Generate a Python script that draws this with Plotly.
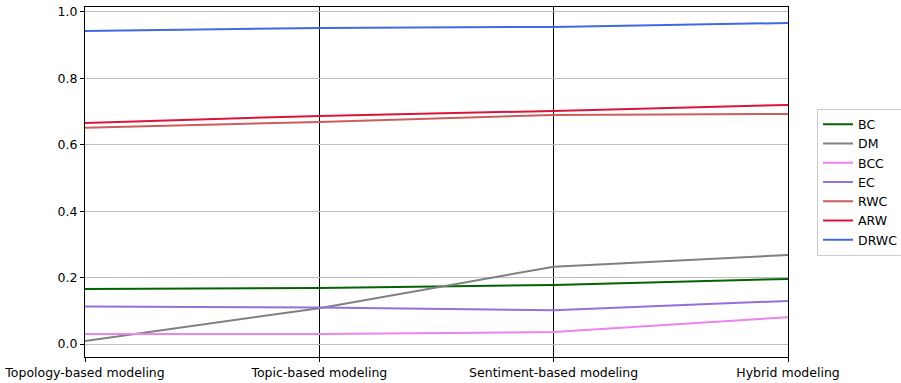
import plotly.graph_objects as go

# Modeling approaches (parallel axes)
categories = ["Topology-based modeling", "Topic-based modeling",
              "Sentiment-based modeling", "Hybrid modeling"]

# Scores per centrality measure across the approaches
BC = [0.166, 0.169, 0.178, 0.196]
DM = [0.009, 0.108, 0.233, 0.268]
BCC = [0.030, 0.030, 0.036, 0.081]
EC = [0.113, 0.110, 0.102, 0.130]
RWC = [0.651, 0.669, 0.690, 0.693]
ARW = [0.666, 0.687, 0.702, 0.720]
DRWC = [0.943, 0.952, 0.955, 0.967]

series = [
    ("BC", BC, "#006400"),
    ("DM", DM, "#808080"),
    ("BCC", BCC, "#ee82ee"),
    ("EC", EC, "#9370db"),
    ("RWC", RWC, "#cd5c5c"),
    ("ARW", ARW, "#dc143c"),
    ("DRWC", DRWC, "#4169e1"),
]

y_ticks = [0.0, 0.2, 0.4, 0.6, 0.8, 1.0]

fig = go.Figure()
for name, vals, color in series:
    fig.add_trace(go.Scatter(
        x=categories, y=vals, mode="lines", name=name,
        line=dict(color=color, width=2),
    ))

font = dict(family="DejaVu Sans", size=12.5, color="black")

fig.update_layout(
    width=901, height=383,
    margin=dict(l=85, r=113, t=7, b=26, autoexpand=False),
    paper_bgcolor="white", plot_bgcolor="white",
    font=font,
    showlegend=True,
    legend=dict(
        x=1.0413, y=0.5, xanchor="left", yanchor="middle",
        bordercolor="#cccccc", borderwidth=1, bgcolor="white",
        font=dict(family="DejaVu Sans", size=12.5),
        tracegroupgap=0, itemwidth=30,
    ),
)

fig.update_xaxes(
    type="category", categoryorder="array", categoryarray=categories,
    range=[0, 3], automargin=False,
    showgrid=True, gridcolor="black", gridwidth=1,
    showline=True, mirror=True, linecolor="black", linewidth=1,
    ticks="outside", ticklen=4, tickcolor="black",
    zeroline=False,
)
fig.update_yaxes(
    range=[-0.039, 1.015], automargin=False,
    tickvals=y_ticks, tickformat=".1f",
    showgrid=True, gridcolor="#bdbdbd", gridwidth=1,
    showline=True, mirror=True, linecolor="black", linewidth=1,
    ticks="outside", ticklen=4, tickcolor="black",
    zeroline=False,
)

fig.write_html("out.html")
